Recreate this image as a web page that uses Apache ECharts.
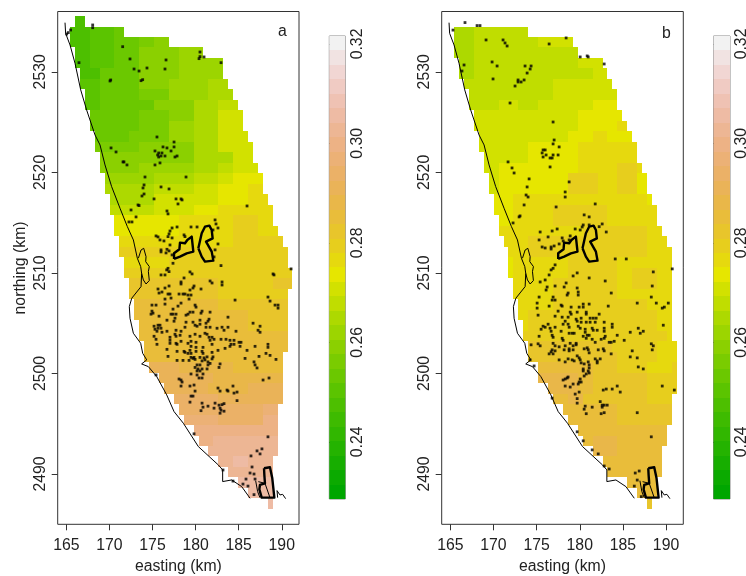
<!DOCTYPE html>
<html><head><meta charset="utf-8">
<style>html,body{margin:0;padding:0;background:#fff}#c{width:746px;height:576px}</style>
<script src="https://cdn.jsdelivr.net/npm/echarts@6/dist/echarts.min.js"></script>
</head><body><div id="c"></div>
<script>
// Grid of the prediction surface (km)
const gridE0 = 165.427, cellW = 0.5737, gridN0 = 2535.55, cellH = 1.043;
const xTicks = [165,170,175,180,185,190];
const yTicks = [2490,2500,2510,2520,2530];
const barTicks = [0.24,0.26,0.28,0.30,0.32];
const barMin = 0.2285, barMax = 0.3216, barSteps = 32;

// each row: startCol, then pairs endCol,value
const rowsA = [
[1,3,.247],
[0,4,.247,9,.250,11,.253],
[0,4,.247,9,.250,14,.253,17,.256,20,.259],
[1,4,.247,9,.250,14,.253,22,.259,27,.262],
[1,4,.247,9,.250,14,.253,22,.259,31,.262],
[2,6,.247,14,.253,22,.259,31,.262],
[2,6,.250,14,.253,20,.259,28,.262,32,.265],
[3,6,.250,14,.253,20,.256,28,.262,33,.265],
[3,6,.250,17,.253,25,.259,30,.265,34,.268],
[4,14,.253,20,.256,25,.259,30,.265,35,.271],
[4,14,.253,20,.256,25,.262,30,.265,35,.271],
[5,12,.253,20,.256,25,.262,30,.265,36,.271],
[5,14,.256,25,.259,30,.265,36,.271,37,.271],
[6,14,.259,25,.259,33,.265,37,.271],
[6,14,.259,25,.262,30,.265,33,.268,38,.271],
[7,17,.262,25,.265,30,.268,33,.271,39,.274],
[7,17,.265,25,.268,30,.271,36,.274,39,.276],
[8,17,.265,25,.271,30,.271,36,.274,40,.276],
[8,17,.268,25,.271,30,.274,41,.276],
[9,22,.274,33,.276,38,.279,41,.276],
[9,22,.274,33,.276,38,.279,42,.276],
[10,33,.276,43,.279],
[10,44,.279],
[11,20,.276,44,.279],
[11,30,.279,45,.279],
[12,30,.282,41,.279,45,.282],
[12,30,.282,44,.279],
[13,30,.285,44,.282],
[13,36,.285,44,.282],
[14,36,.285,44,.282],
[14,44,.285],
[15,44,.285],
[15,43,.285],
[16,22,.291,33,.288,43,.285],
[18,29,.291,43,.288],
[19,28,.291,36,.288,43,.291],
[21,30,.294,43,.291],
[22,39,.294,42,.297],
[23,30,.297,39,.294,42,.300],
[25,42,.300],
[26,29,.300,42,.303],
[28,42,.303],
[30,33,.303,36,.306,41,.303],
[32,41,.303],
[34,41,.306],
[36,41,.306],
[40,41,.306]
];
const rowsB = [
[0,0,.265],
[0,4,.265,15,.268],
[0,4,.265,17,.268,24,.271],
[0,4,.265,25,.268],
[1,4,.265,25,.268,30,.271],
[1,4,.265,28,.268,31,.271],
[2,20,.268,32,.271],
[3,20,.268,33,.271],
[3,9,.268,13,.271,17,.268,28,.271,33,.274],
[4,25,.271,34,.274],
[4,25,.271,33,.274,35,.276],
[5,23,.271,28,.274,31,.276,36,.274],
[5,15,.271,25,.274,37,.276],
[6,15,.271,25,.274,37,.276],
[6,9,.271,25,.274,33,.276,37,.279,38,.276],
[7,9,.271,23,.274,29,.279,33,.276,37,.279,39,.274],
[7,9,.271,23,.274,29,.279,33,.276,37,.279,39,.274],
[8,12,.274,39,.276,40,.274],
[8,12,.274,20,.276,31,.279,41,.276],
[9,12,.274,20,.276,31,.279,41,.276],
[9,26,.276,39,.279,42,.276],
[10,15,.276,39,.279,43,.276],
[11,15,.276,39,.279,44,.276],
[11,12,.274,23,.276,33,.279,44,.276],
[11,12,.274,23,.276,33,.279,36,.276,41,.279,44,.276],
[12,20,.276,33,.279,36,.276,41,.279,44,.276],
[12,20,.276,33,.279,44,.276],
[13,20,.276,39,.279,44,.276],
[13,15,.276,41,.279,44,.276],
[14,15,.276,41,.279,44,.276],
[14,43,.279,44,.276],
[15,32,.282,41,.279,45,.276],
[15,33,.282,41,.279,45,.276],
[17,28,.285,33,.282,39,.279,44,.276,45,.279],
[17,25,.288,28,.285,39,.282,45,.279],
[19,25,.288,28,.285,39,.282,45,.279],
[20,23,.285,26,.288,39,.282,44,.279],
[22,33,.285,44,.282],
[23,33,.285,44,.282],
[25,43,.285],
[26,28,.285,33,.288,43,.285],
[28,33,.288,42,.285],
[30,42,.285],
[31,42,.285],
[35,41,.285],
[37,41,.285],
[39,40,.282]
];

// shoreline and outlines, easting/northing pairs
const coast = [164.85,2534.89,164.92,2533.83,165.43,2532.67,166.01,2530.85,166.67,2528.2,167.36,2526.2,168.33,2523.72,168.91,2522.73,169.49,2520.74,170.26,2518.58,171.23,2516.43,172.08,2514.61,172.78,2513.28,173.24,2511.46,173.63,2510.63,173.74,2509.96,173.67,2508.64,172.59,2507.48,172.31,2506.65,172.39,2505.49,172.78,2504.0,173.63,2503.0,173.86,2502.01,174.33,2501.35,173.74,2500.95,174.52,2500.68,175.49,2499.69,176.65,2497.87,177.5,2496.21,178.58,2495.05,180.32,2492.73,182.64,2490.9,183.14,2490.41,183.14,2489.25,184.19,2489.41,185.35,2488.75,186.32,2487.59];
const coastEast = [189.52,2487.65,189.45,2488.35,189.79,2487.92,190.10,2487.98,190.45,2487.55];
const lagoon = [173.36,2511.46,173.67,2512.28,173.98,2512.45,174.25,2511.62,174.21,2511.12,174.63,2510.63,174.52,2510.13,174.63,2509.24,174.25,2508.9,173.94,2509.3,173.74,2509.96];
const pond1 = [177.50,2511.39,177.50,2511.95,178.12,2512.35,178.19,2513.01,178.77,2512.95,179.04,2513.28,179.55,2513.61,179.74,2512.12,178.97,2511.95,178.19,2511.62,177.50,2511.39];
const pond2 = [180.32,2512.45,180.71,2513.94,181.09,2514.60,181.60,2514.70,181.87,2514.27,181.98,2513.44,181.21,2513.11,181.87,2512.12,182.06,2511.22,181.09,2511.12,180.71,2511.62,180.32,2512.45];
const pond3 = [187.94,2490.57,188.63,2490.67,188.90,2489.57,189.14,2487.65,187.67,2487.65,187.40,2488.48,187.47,2488.91,188.05,2489.08,187.98,2489.90,187.94,2490.57];
const inner1 = [186.97,2489.34,187.20,2488.25,187.47,2487.65];
const inner2 = [187.28,2489.24,188.05,2489.08,188.63,2487.65];

const dotsA = [168.06,2534.66,168.06,2534.39,165.5,2534.16,165.23,2533.9,165.04,2533.76,171.54,2532.5,172.39,2531.28,176.57,2531.18,180.51,2531.97,180.98,2531.48,180.4,2531.31,180.51,2531.51,182.95,2530.91,166.47,2530.91,172.86,2530.28,173.44,2530.08,174.36,2530.38,176.45,2530.28,170.15,2529.19,170.07,2529.09,173.67,2529.12,173.86,2529.22,175.52,2523.52,177.5,2523.02,177.5,2522.53,176.22,2522.53,176.68,2522.43,177.15,2522.13,175.29,2522.13,170.19,2522.43,170.77,2522.03,175.72,2521.93,176.1,2521.93,175.6,2521.73,175.72,2521.53,175.99,2521.63,176.45,2521.63,177.61,2521.53,177.85,2521.63,171.58,2521.04,171.69,2521.04,172.04,2520.74,175.29,2520.74,175.87,2520.94,174.13,2519.54,178.89,2519.54,174.02,2518.75,173.9,2518.45,175.99,2518.55,176.92,2518.35,174.02,2517.85,173.78,2517.65,175.18,2517.36,177.73,2517.36,178.31,2517.36,178.43,2517.26,177.96,2516.86,173.32,2516.76,173.44,2516.7,185.97,2516.66,172.51,2516.26,176.68,2516.16,176.8,2515.87,173.09,2515.57,172.27,2515.07,172.62,2515.07,182.26,2515.27,182.37,2514.87,182.6,2514.47,182.02,2514.27,177.27,2514.47,177.85,2514.57,179.47,2514.57,180.17,2514.57,177.03,2514.17,176.92,2513.88,176.8,2513.61,175.41,2513.68,175.64,2513.58,175.87,2513.28,176.33,2513.18,177.27,2513.48,178.66,2513.78,178.77,2513.61,182.6,2512.88,177.03,2512.78,182.26,2512.29,175.99,2512.29,175.99,2512.09,176.68,2512.35,176.92,2512.19,176.57,2511.99,182.14,2511.59,177.27,2511.79,
177.38,2510.96,176.8,2510.46,176.65,2510.3,176.92,2510.13,176.45,2509.8,175.99,2509.8,182.95,2510.73,179.35,2510.1,179.59,2509.9,178.66,2509.5,188.99,2509.9,189.1,2509.8,191.08,2510.4,178.31,2509.1,178.31,2508.9,181.68,2509.2,181.91,2509.0,183.07,2509.1,183.07,2508.8,179.82,2508.7,179.7,2508.5,179.35,2508.3,180.63,2508.4,176.92,2508.7,176.45,2508.5,175.64,2508.4,175.76,2508.0,176.1,2508.1,176.8,2507.9,177.03,2507.9,177.15,2507.5,178.08,2507.9,178.54,2507.9,178.77,2507.9,179.12,2507.8,179.47,2507.8,179.24,2507.4,188.4,2507.6,188.64,2507.2,184.58,2507.3,176.45,2507.4,176.45,2506.9,178.31,2507.0,177.96,2506.7,179.94,2506.8,180.05,2506.6,174.94,2506.8,175.41,2506.8,189.22,2506.8,189.57,2506.8,189.57,2506.5,177.38,2506.4,174.94,2506.2,174.83,2505.9,175.06,2506.0,177.15,2505.9,177.38,2505.9,177.73,2505.9,177.61,2505.5,175.76,2505.7,179.35,2506.1,179.12,2505.9,178.89,2505.8,179.7,2506.1,180.75,2506.2,180.63,2506.0,181.68,2506.1,183.76,2505.6,176.68,2505.3,177.5,2505.2,178.89,2505.1,179.7,2505.1,180.51,2505.3,181.21,2505.0,181.44,2505.2,181.56,2505.4,186.67,2505.0,187.48,2504.7,187.25,2504.3,187.48,2504.1,175.18,2504.7,175.64,2504.8,175.87,2504.8,175.29,2504.4,175.64,2504.5,175.99,2504.5,175.52,2504.2,176.1,2504.1,176.68,2504.2,178.77,2504.6,179.94,2504.8,180.17,2504.7,180.51,2504.9,181.21,2504.6,181.68,2504.6,182.49,2504.5,183.07,2504.6,183.3,2504.3,183.76,2504.6,184.69,2504.2,177.73,2504.3,178.31,2504.2,177.61,2503.9,177.73,2503.7,178.2,2503.8,179.35,2503.7,179.94,2503.9,180.51,2503.7,181.09,2504.0,181.33,2503.9,181.56,2503.6,175.18,2503.7,175.41,2503.4,177.03,2503.6,177.03,2503.3,181.91,2503.6,181.68,2503.3,182.14,2503.4,182.95,2503.4,183.53,2503.4,183.99,2503.3,184.46,2503.3,185.04,2503.1,185.27,2503.1,184.11,2502.9,184.46,2502.9,183.99,2502.7,185.16,2502.7,175.52,2502.9,177.03,2503.0,177.73,2503.0,177.85,2502.9,178.31,2503.2,179.47,2503.2,180.05,2503.1,179.12,2503.0,179.47,2502.7,180.05,2502.6,180.86,2502.6,181.91,2502.9,183.42,2502.5,176.68,2502.4,177.85,2502.2,178.66,2502.2,178.77,2502.1,179.35,2502.3,179.47,2502.0,180.05,2502.2,180.75,2502.2,180.86,2502.0,179.12,2502.0,181.91,2502.1,182.6,2502.3,185.97,2502.3,186.9,2502.7,188.4,2502.9,188.4,2502.6,188.17,2502.0,188.64,2501.8,187.36,2501.7,185.74,2501.5,189.33,2501.4,176.8,2501.7,177.85,2501.3,178.54,2501.3,179.24,2501.3,179.47,2501.6,179.82,2501.6,179.7,2501.5,179.94,2501.4,180.51,2501.6,180.75,2501.25,180.98,2501.55,181.33,2501.65,181.09,2501.35,181.44,2501.15,181.68,2501.0,182.02,2501.65,181.91,2501.45,180.51,2500.85,180.17,2500.85,179.94,2500.6,180.28,2500.45,180.75,2500.45,181.33,2500.45,181.44,2500.85,180.17,2500.25,180.51,2500.25,182.84,2500.95,182.72,2500.6,186.78,2501.15,186.9,2500.85,187.13,2500.55,175.41,2499.85,179.47,2499.95,180.17,2499.85,180.86,2499.95,180.4,2499.55,180.75,2499.55,188.52,2499.55,187.83,2499.35,178.08,2499.45,178.31,2499.35,178.43,2499.15,179.35,2498.75,179.82,2498.85,178.31,2498.75,179.94,2498.25,182.6,2498.55,182.84,2498.25,183.65,2498.35,184.34,2498.75,183.76,2498.25,184.46,2498.05,184.81,2498.15,179.47,2497.75,179.7,2497.75,179.35,2497.15,184.81,2497.3,180.75,2497.05,180.86,2496.65,181.44,2496.75,182.26,2497.05,182.14,2496.55,182.72,2496.85,183.07,2496.9,183.3,2497.0,182.84,2496.55,182.95,2496.35,182.84,2496.05,183.3,2496.25,180.63,2496.3,179.82,2494.0,188.4,2493.7,187.7,2492.5,187.13,2492.3,187.48,2492.0,186.43,2491.8,186.55,2490.7,183.18,2490.4,186.32,2490.1,186.78,2490.0,185.85,2489.5,186.9,2489.5,184.34,2489.3,185.5,2489.0,186.08,2488.8,186.78,2487.95];

const dotsB = [166.7,2534.9,168.1,2534.6,168.44,2534.6,165.31,2534.15,169.14,2533.17,171.11,2533.17,171.34,2532.87,171.58,2532.57,178.42,2533.37,176.45,2532.77,180.05,2531.48,180.86,2531.58,180.98,2531.48,182.83,2530.78,169.84,2530.98,170.42,2530.58,166.59,2530.68,173.66,2530.58,174.36,2530.58,174.25,2530.28,166.35,2530.08,173.9,2529.88,169.95,2529.29,172.85,2529.19,172.85,2528.99,173.2,2528.99,173.55,2529.19,172.5,2528.59,171.92,2526.9,176.91,2525.01,177.03,2523.22,176.91,2522.83,177.61,2522.53,175.75,2522.23,175.99,2522.23,175.64,2521.93,176.1,2521.73,176.91,2521.73,177.49,2521.73,175.75,2521.53,176.56,2521.43,176.8,2521.43,171.69,2521.04,172.15,2520.44,176.56,2520.54,172.39,2519.94,174.13,2519.35,178.77,2519.05,173.9,2518.55,178.31,2518.05,173.78,2517.75,174.01,2517.55,178.31,2517.55,173.55,2516.76,181.79,2516.86,177.26,2516.56,173.08,2515.67,172.97,2515.57,172.27,2514.97,180.51,2515.77,181.09,2515.57,180.4,2514.77,180.28,2514.57,181.09,2514.77,182.25,2514.6,182.6,2514.87,179.47,2514.37,180.05,2514.27,183.07,2514.07,175.41,2514.07,176.8,2514.17,177.38,2514.37,176.33,2513.58,175.29,2513.28,177.96,2513.48,178.89,2513.68,178.08,2513.18,178.77,2513.28,177.61,2512.88,177.03,2512.68,175.64,2512.58,175.99,2512.48,176.68,2512.58,176.68,2512.38,184.11,2511.39,185.39,2511.39,
176.91,2510.46,177.14,2510.8,176.68,2510.3,176.45,2509.8,175.99,2509.3,175.41,2509.1,179.23,2509.7,179.7,2510.0,181.09,2509.5,182.95,2509.2,188.52,2510.1,190.72,2510.4,188.4,2508.7,178.42,2509.0,178.19,2508.6,176.22,2508.6,176.1,2508.3,177.14,2508.7,179.7,2508.5,179.82,2508.1,179.82,2507.8,178.65,2508.0,178.54,2507.8,183.65,2508.0,175.29,2507.6,176.91,2507.6,176.8,2507.3,177.14,2507.3,188.29,2507.6,186.66,2507.0,188.87,2507.0,190.26,2507.0,175.06,2507.0,176.45,2506.7,177.84,2506.8,177.96,2506.7,179.0,2506.6,179.93,2506.6,180.4,2506.9,180.4,2506.6,181.09,2506.9,183.3,2506.7,189.8,2506.6,189.56,2506.5,175.06,2506.5,177.49,2506.2,178.89,2506.1,179.0,2505.9,179.7,2506.1,180.75,2506.1,180.75,2505.9,182.25,2505.9,175.17,2505.8,177.14,2505.7,177.96,2505.6,178.65,2505.6,178.31,2505.2,179.58,2505.4,180.16,2505.5,181.2,2505.5,181.56,2505.5,181.9,2505.5,179.7,2505.2,180.16,2505.1,180.75,2505.1,181.2,2505.1,181.79,2505.1,178.07,2504.9,178.65,2504.9,179.82,2504.7,180.05,2504.5,176.33,2504.9,175.75,2504.7,175.99,2504.6,175.52,2504.4,176.56,2504.5,176.68,2504.2,177.14,2504.6,177.84,2504.2,178.77,2504.6,178.77,2504.0,179.12,2504.0,179.35,2504.0,180.63,2504.4,180.63,2504.1,181.44,2504.5,181.56,2504.3,182.02,2504.3,182.83,2505.1,182.83,2504.5,182.83,2504.2,183.76,2504.9,183.76,2504.6,186.78,2504.5,185.85,2504.1,187.36,2504.2,187.01,2504.0,189.68,2504.8,175.29,2503.7,176.8,2503.8,176.91,2503.6,177.96,2503.5,178.07,2503.3,180.4,2503.7,180.75,2503.5,180.86,2503.8,181.09,2503.8,181.44,2503.4,181.79,2503.1,182.48,2503.4,182.83,2503.5,182.95,2503.7,183.41,2503.1,183.64,2503.1,183.99,2503.2,184.34,2503.8,185.15,2503.3,174.36,2502.85,175.17,2502.95,175.41,2502.75,176.91,2503.0,177.14,2502.75,177.61,2502.65,178.31,2502.75,178.89,2503.0,179.58,2503.0,179.23,2502.75,178.77,2502.45,178.77,2502.25,179.23,2502.35,179.58,2502.85,176.8,2502.35,177.14,2502.25,176.68,2502.15,176.45,2501.95,176.91,2501.95,178.19,2502.35,180.51,2502.45,180.86,2502.55,180.98,2502.35,181.09,2502.05,182.14,2502.35,182.72,2502.45,182.83,2502.25,183.64,2501.95,186.08,2502.25,188.29,2502.95,188.52,2502.75,188.4,2502.35,185.85,2501.65,186.66,2501.55,177.61,2501.35,178.31,2501.15,178.65,2501.45,179.12,2501.35,179.35,2501.25,179.7,2501.75,179.93,2501.55,180.05,2501.35,180.16,2501.05,180.51,2500.95,180.98,2501.15,181.79,2501.45,182.02,2501.25,182.37,2501.45,182.02,2501.05,181.09,2500.85,181.09,2500.55,180.4,2500.45,180.4,2500.25,180.98,2500.25,181.09,2500.05,180.75,2499.95,180.51,2499.75,186.78,2500.65,187.36,2500.45,174.25,2501.35,174.71,2500.75,178.54,2499.55,178.07,2499.35,178.31,2499.45,178.65,2499.65,180.05,2499.45,179.93,2499.15,180.16,2499.15,179.82,2498.95,179.23,2498.95,178.89,2498.65,178.31,2498.75,189.56,2498.75,190.96,2498.35,184.34,2498.75,183.76,2498.45,184.69,2498.15,182.72,2498.35,183.07,2498.45,179.93,2498.15,179.47,2497.95,176.8,2497.55,179.7,2497.5,179.7,2497.05,180.63,2496.75,181.44,2496.65,180.51,2496.45,182.37,2497.2,182.6,2496.85,182.83,2496.85,183.18,2496.85,182.6,2496.65,180.75,2496.0,182.48,2496.0,182.83,2496.1,186.66,2496.1,179.7,2494.2,188.29,2493.7,180.4,2493.3,181.44,2492.4,182.14,2492.0,182.83,2490.8,183.41,2490.5,186.89,2490.3,186.43,2490.1,186.66,2489.4,186.32,2488.8,187.13,2487.75];

function hsv(h,s,v){const f=(n)=>{const k=(n+h/60)%6;return v-v*s*Math.max(0,Math.min(k,4-k,1));};
  const c=x=>Math.round(x*255);return 'rgb('+c(f(5))+','+c(f(3))+','+c(f(1))+')';}
// same ramp as the colour key: green to yellow, yellow to off-white
const palette=[];
for(let i=0;i<16;i++)palette.push(hsv(120-60*i/15,1,.65+.25*i/15));
for(let i=1;i<=16;i++)palette.push(hsv(60-60*i/16,1-i/16,.9+.05*i/16));
const step=(barMax-barMin)/barSteps;
const colorOf=v=>palette[Math.max(0,Math.min(barSteps-1,Math.floor((v-barMin)/step)))];

function pairs(a){const o=[];for(let i=0;i<a.length;i+=2)o.push([a[i],a[i+1]]);return o;}
function cells(rows){const o=[];rows.forEach((r,k)=>{let c=r[0];for(let i=1;i<r.length;i+=2){if(r[i]>c)o.push([c,r[i],k,r[i+1]]);c=r[i];}});return o;}
function rectRender(params,api){
  const c0=api.value(0),c1=api.value(1),k=api.value(2),v=api.value(3);
  const p0=api.coord([gridE0+c0*cellW,gridN0-k*cellH]);
  const p1=api.coord([gridE0+c1*cellW,gridN0-(k+1)*cellH]);
  const x=Math.round(p0[0]),y=Math.round(p0[1]);
  return {type:'rect',shape:{x:x,y:y,width:Math.round(p1[0])-x,height:Math.round(p1[1])-y},style:{fill:colorOf(v)}};
}
function barRender(params,api){
  const a=api.value(0),b=api.value(1);
  const p0=api.coord([0,b]),p1=api.coord([1,a]);
  const y=Math.round(p0[1]);
  return {type:'rect',shape:{x:p0[0],y:y,width:p1[0]-p0[0],height:Math.round(p1[1])-y},style:{fill:colorOf((a+b)/2)}};
}
const FONT='"Liberation Sans",Arial,sans-serif', TXT='#222', AX='#333';
const lbl={fontFamily:FONT,fontSize:15.8,color:TXT};
function xAx(i,name){return {gridIndex:i,type:'value',min:164,max:192,name:name,nameLocation:'middle',nameGap:34,
  nameTextStyle:lbl,splitLine:{show:false},axisLine:{show:false,onZero:false},
  axisTick:{length:6,lineStyle:{color:AX},customValues:xTicks},
  axisLabel:Object.assign({margin:13,customValues:xTicks,formatter:v=>String(v)},lbl)};}
function yAx(i,name){return {gridIndex:i,type:'value',min:2485,max:2536,name:name,nameLocation:'middle',nameGap:29,
  nameTextStyle:lbl,splitLine:{show:false},axisLine:{show:false,onZero:false},
  axisTick:{length:6,lineStyle:{color:AX},customValues:yTicks},
  axisLabel:Object.assign({margin:9,rotate:90,customValues:yTicks,formatter:v=>String(v)},lbl)};}
function barX(i){return {gridIndex:i,type:'value',min:0,max:1,show:false};}
function barY(i){return {gridIndex:i,type:'value',position:'right',min:barMin,max:barMax,splitLine:{show:false},
  axisLine:{show:false},axisTick:{length:4,lineStyle:{color:AX},customValues:barTicks},
  axisLabel:Object.assign({margin:4,rotate:90,customValues:barTicks,formatter:v=>v.toFixed(2)},lbl)};}
function line(a,w,i){return {type:'line',xAxisIndex:i,yAxisIndex:i,data:pairs(a),showSymbol:false,symbol:'none',silent:true,z:5,
  lineStyle:{color:'#000',width:w,join:'round'},animation:false,clip:false};}
const barData=[];for(let i=0;i<barSteps;i++)barData.push([barMin+i*step,barMin+(i+1)*step]);
const series=[];
[[rowsA,dotsA,0],[rowsB,dotsB,1]].forEach(([rows,dots,i])=>{
  series.push({type:'custom',xAxisIndex:i,yAxisIndex:i,data:cells(rows),renderItem:rectRender,silent:true,z:2,animation:false});
  [coast,coastEast,lagoon,inner1,inner2].forEach(a=>series.push(line(a,1,i)));
  [pond1,pond2,pond3].forEach(a=>series.push(line(a,2.4,i)));
  series.push({type:'scatter',xAxisIndex:i,yAxisIndex:i,data:pairs(dots),symbol:'rect',symbolSize:2.8,silent:true,z:6,itemStyle:{color:'#000'},animation:false});
});
[2,3].forEach(i=>series.push({type:'custom',xAxisIndex:i,yAxisIndex:i,data:barData,renderItem:barRender,silent:true,z:2,animation:false}));

const chart=echarts.init(document.getElementById('c'),null,{renderer:'canvas'});
chart.setOption({
  animation:false,backgroundColor:'#fff',
  title:[{text:'a',left:273,top:19,textStyle:{fontFamily:FONT,fontSize:15.8,fontWeight:'normal',color:TXT}},
         {text:'b',left:657,top:21,textStyle:{fontFamily:FONT,fontSize:15.8,fontWeight:'normal',color:TXT}}],
  grid:[{left:57.7,top:11.5,width:241.3,height:512.8,show:true,borderColor:AX,borderWidth:1,outerBoundsMode:'none'},
        {left:441.7,top:11.5,width:241.6,height:512.8,show:true,borderColor:AX,borderWidth:1,outerBoundsMode:'none'},
        {left:329.3,top:36,width:16,height:463,show:true,borderColor:'#888',borderWidth:1,outerBoundsMode:'none'},
        {left:713.5,top:36,width:16.5,height:463,show:true,borderColor:'#888',borderWidth:1,outerBoundsMode:'none'}],
  xAxis:[xAx(0,'easting (km)'),xAx(1,'easting (km)'),barX(2),barX(3)],
  yAxis:[yAx(0,'northing (km)'),yAx(1,''),barY(2),barY(3)],
  series:series
});
</script></body></html>
